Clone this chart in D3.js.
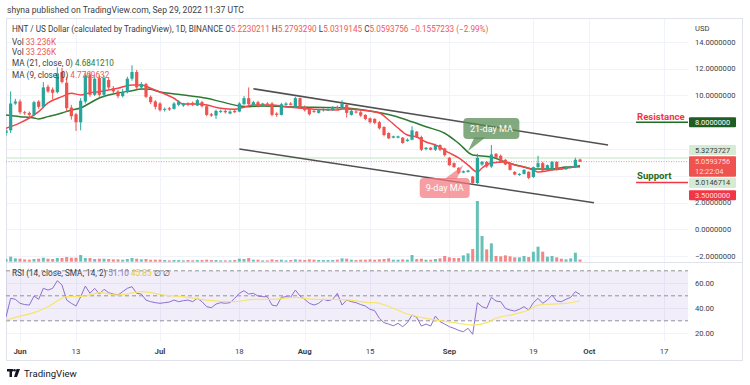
<!DOCTYPE html>
<html><head><meta charset="utf-8">
<script src="https://cdn.jsdelivr.net/npm/d3@7"></script>
<style>
body{margin:0;background:#fff;}
svg{display:block;font-family:Roboto,"Noto Sans",sans-serif;}
</style>
</head><body><svg id="c" width="750" height="385"></svg>
<script>
// ---------- DATA ----------
const firstDay = new Date(2022, 4, 29);   // May 29, 2022 (daily candles through Sep 29)
const lastDay = new Date(2022, 8, 30);
const dates = d3.timeDay.range(firstDay, lastDay);

const open = [7.2,7.4,9.4,9.55,8.75,8.7,8.55,9.55,9.15,10.65,10.45,10.25,11.75,10.95,9.1,8.6,8.0,9.55,11.55,10.05,11.3,10.05,11.15,10.55,10.3,9.95,10.25,11.25,11.75,10.6,10.85,9.9,9.55,9.4,8.95,9.05,9.0,9.3,9.25,9.4,9.45,9.25,9.5,9.2,8.6,8.5,8.8,8.85,8.65,8.85,8.8,9.35,9.8,9.3,9.5,9.3,9.4,9.4,8.65,8.55,9.3,9.4,9.15,9.8,9.15,9.05,8.85,8.7,8.9,8.95,8.9,9.15,9.05,9.3,8.55,8.8,8.75,8.55,8.3,8.25,8.0,7.65,7.2,6.85,6.85,6.85,6.6,6.7,7.3,6.9,6.0,6.1,5.95,6.3,6.05,5.35,4.95,4.6,4.25,4.3,3.95,3.47,4.85,5.05,4.7,5.65,5.5,5.2,4.95,4.3,4.1,4.15,4.3,3.92,4.65,4.95,4.5,4.45,5.05,4.6,4.5,4.6,4.65,5.2230211];
const high = [7.5,10.3,9.75,9.7,8.85,8.8,9.6,9.65,11.0,10.8,10.6,12.1,12.05,11.4,9.3,8.7,9.8,11.7,11.8,11.5,11.5,11.5,11.35,10.7,10.4,10.5,11.4,12.25,11.9,11.0,10.95,10.0,9.65,9.5,9.1,9.15,9.5,9.65,9.45,9.5,9.55,9.75,9.6,9.3,8.7,8.95,8.95,8.95,8.9,8.95,9.5,9.95,10.6,9.6,9.6,9.45,9.5,9.5,8.75,9.45,9.5,9.5,9.9,9.85,9.25,9.1,8.95,9.0,9.05,9.05,9.2,9.25,9.65,9.35,8.95,8.9,8.85,8.6,8.35,8.3,8.1,7.7,7.25,7.0,7.0,6.9,6.8,7.7,7.35,7.0,6.15,6.15,6.4,6.35,6.1,5.4,5.0,4.65,4.4,4.45,4.0,5.65,5.1,5.1,6.3,5.7,5.6,5.25,5.0,4.35,4.2,4.5,4.35,4.7,5.5,5.05,4.85,5.1,5.1,4.65,4.65,4.75,5.35,5.2793290];
const low = [7.0,7.2,9.3,8.6,8.55,8.4,8.45,9.0,9.05,10.2,9.7,10.15,10.9,8.8,8.2,7.35,7.4,9.4,9.9,9.95,9.9,9.85,10.45,10.15,9.8,9.85,10.15,11.1,10.45,10.4,9.8,9.35,8.95,8.8,8.8,8.85,8.95,9.2,9.15,9.2,9.2,9.2,9.1,8.45,8.4,8.25,8.7,8.65,8.6,8.7,8.75,9.3,9.25,9.25,9.1,9.2,9.3,8.45,8.4,8.5,9.2,9.25,9.1,9.05,8.8,8.5,8.7,8.65,8.8,8.85,8.85,8.95,9.0,8.35,8.5,8.65,8.4,8.15,7.9,7.85,7.45,6.95,6.75,6.8,6.8,6.4,6.55,6.65,6.85,5.85,5.9,5.9,5.85,5.85,5.45,4.75,4.6,4.15,4.2,4.25,3.4,3.4,4.75,4.6,4.6,5.3,5.0,4.8,4.4,4.05,4.0,4.1,3.75,3.85,4.6,4.35,4.45,4.4,4.4,4.45,4.45,4.55,4.6,5.0319145];
const close = [7.4,9.4,9.55,8.75,8.7,8.55,9.5,9.15,10.6,10.3,10.2,11.65,11.0,9.05,8.45,8.0,9.6,11.5,10.05,11.25,10.05,11.3,10.6,10.3,9.95,10.25,11.25,11.75,10.6,10.85,9.9,9.5,9.15,8.9,9.0,8.95,9.4,9.55,9.4,9.3,9.3,9.65,9.2,8.55,8.5,8.85,8.85,8.75,8.8,8.75,9.4,9.8,9.35,9.5,9.2,9.4,9.35,8.55,8.55,9.35,9.4,9.3,9.8,9.15,8.9,8.6,8.8,8.9,9.0,8.95,9.15,9.05,9.4,8.7,8.85,8.75,8.5,8.25,8.0,7.95,7.55,7.05,6.8,6.95,6.95,6.45,6.7,7.4,6.9,5.95,6.1,5.95,6.3,5.95,5.55,4.8,4.65,4.2,4.35,4.4,3.47,5.35,5.05,4.7,5.6,5.35,5.05,4.85,4.45,4.1,4.15,4.45,3.85,4.65,4.95,4.4,4.8,5.05,4.45,4.5,4.6,4.7,5.2,5.0593756];
// volume in thousands
const volume = [40,75,50,45,35,30,40,45,60,45,40,55,55,70,60,60,100,55,55,40,45,45,40,35,35,30,40,55,45,35,40,30,30,30,25,20,25,25,20,25,20,25,25,30,25,25,20,20,20,25,45,40,55,30,30,20,20,35,25,30,20,25,35,30,25,35,30,25,25,25,25,30,50,45,30,25,30,30,35,30,35,40,50,30,30,35,30,100,40,45,30,30,40,50,85,65,55,55,95,125,190,910,385,185,275,85,80,95,80,65,65,85,70,150,225,150,75,85,65,45,35,50,135,33.236];
const rsi = [33,48,47.2,44,43,42.6,49.8,47.2,56,54.6,56,62.1,58.6,46.6,44,41.8,49.3,57.8,52,56,51.4,55.2,52.5,51.4,50.6,53.3,56,57.3,52,51.4,46.6,45.3,44.5,44,44.5,45,46.6,45.3,46.1,46.6,45.3,48,45.3,41.3,40.5,43.4,44.5,44,44.5,48,52,54.1,51.4,52,49.8,49.3,49.3,42.6,41.8,48.8,49.3,48.8,54.6,49.8,47.2,44,42.6,44,47.2,46.1,47.2,52,42.6,46.6,45.3,44.5,43,41.8,39.2,38.1,32,28.5,27.4,26,28,25.3,28.5,34.6,32.8,25.8,27.4,25.8,33.8,29.3,27.4,25.3,24,22.3,21.3,24,19.2,44.5,41.3,40,48.8,45.8,45.3,40,38.6,37.8,39.2,41.3,38.6,44.5,48,44,46.6,50.6,45.8,45.3,47.2,48.8,53.3,51.1];
// [day index, value]
const ma21 = [[0,8.54],[3,8.42],[6,8.32],[7,8.25],[9,8.42],[12,8.69],[14,8.92],[16,9.07],[18,9.44],[20,9.81],[22,10.04],[24,10.19],[27,10.36],[29,10.49],[31,10.46],[33,10.26],[34,10.21],[38,10.04],[43,9.79],[46,9.54],[50,9.22],[52,9.16],[55,9.22],[60,9.16],[66,9.12],[72,9.09],[79,8.79],[83,8.49],[87,8.04],[90,7.67],[94,7.18],[97,6.43],[100,5.56],[104,5.41],[107,5.04],[111,4.66],[113,4.51],[117,4.51],[120,4.66],[123,4.684121]];
const ma9 = [[0,7.55],[3,7.95],[5,8.32],[7,8.79],[9,9.44],[12,9.91],[14,10.16],[16,10.04],[18,10.21],[20,10.28],[22,10.41],[24,10.54],[27,10.78],[29,10.78],[31,10.54],[33,10.26],[36,9.79],[38,9.37],[41,9.37],[43,9.29],[46,9.04],[49,8.97],[51,9.12],[53,9.29],[57,9.29],[60,9.16],[64,9.04],[66,8.97],[71,8.92],[72,8.99],[76,8.92],[80,8.69],[82,8.17],[84,7.57],[86,7.05],[88,6.9],[90,6.53],[92,6.31],[95,5.71],[97,5.34],[99,4.81],[101,4.29],[102,4.59],[104,4.96],[107,5.04],[109,4.81],[111,4.66],[113,4.44],[114,4.29],[117,4.44],[119,4.51],[123,4.7769632]];
const rsiSma = [[0,30.6],[3,33.8],[6,36.5],[9,41.3],[12,48],[13,49.3],[17,49.8],[20,52.5],[24,50.6],[29,53.3],[34,50.6],[39,48.8],[43,46.6],[49,45.3],[53,47.2],[57,47.2],[62,48.8],[66,47.2],[70,47.2],[74,46.6],[78,44.5],[79,44.5],[83,40],[86,35.4],[90,32],[93,30.1],[97,28],[100,26.6],[103,28.5],[105,32],[109,35.4],[112,38.6],[114,42.6],[117,43.4],[120,44],[123,45.85]];
// trend channel lines [day index, price]
const upperTrend = [[53,10.5],[129,6.3]];
const lowerTrend = [[50,6.0],[126,2.0]];
const resistance = 8.0, support = 3.5;
const lastLevels = {green: 5.3273727, close: 5.0593756, green2: 5.0146714};

const timeTicks = [new Date(2022,5,1),new Date(2022,5,13),new Date(2022,6,1),new Date(2022,6,18),new Date(2022,7,1),new Date(2022,7,15),new Date(2022,8,1),new Date(2022,8,19),new Date(2022,9,1),new Date(2022,9,17)];
const timeTickLabels = ["Jun","13","Jul","18","Aug","15","Sep","19","Oct","17"];
const priceTicks = [14,12,10,8,6,4,2,0,-2];
const rsiTicks = [60,40,20];
const rsiBands = [70,50,30];

// ---------- LAYOUT ----------
const svg = d3.select("#c");
const L = 6, R = 688, FR = 743, mTop = 18, mBot = 262, rBot = 341, fBot = 361;
const x = d3.scaleTime().domain([firstDay, new Date(2022,9,22)]).range([L, L + 146*4.667]);
const y = d3.scaleLinear().domain([-2.425, 15.78]).range([mBot, mTop]);
const yV = d3.scaleLinear().domain([0, 910]).range([261.7, 201]);
const yR = d3.scaleLinear().domain([13.84, 77.04]).range([rBot, mBot]);
const dx = i => x(d3.timeDay.offset(firstDay, i));
const UP = "#26a69a", DN = "#ef5350";

const defs = svg.append("defs");
defs.append("clipPath").attr("id","cm").append("rect").attr("x",L).attr("y",mTop).attr("width",R-L).attr("height",mBot-mTop);
defs.append("clipPath").attr("id","cr").append("rect").attr("x",L).attr("y",mBot).attr("width",R-L).attr("height",rBot-mBot);

// header
svg.append("text").attr("x",7).attr("y",13).attr("font-size",8.6).attr("fill","#3b3e46")
  .text("shyna published on TradingView.com, Sep 29, 2022 11:37 UTC");

// frame
svg.append("rect").attr("x",L+0.5).attr("y",mTop+0.5).attr("width",FR-L-1).attr("height",fBot-mTop-1)
  .attr("fill","none").attr("stroke","#e0e3eb");

// grid
const grid = svg.append("g").attr("stroke","#f0f3fa").attr("stroke-width",1);
timeTicks.forEach(d => grid.append("line").attr("x1",Math.round(x(d))+0.5).attr("x2",Math.round(x(d))+0.5).attr("y1",mTop+1).attr("y2",rBot));
priceTicks.forEach(v => grid.append("line").attr("x1",L+1).attr("x2",R).attr("y1",Math.round(y(v))+0.5).attr("y2",Math.round(y(v))+0.5));
rsiTicks.forEach(v => grid.append("line").attr("x1",L+1).attr("x2",R).attr("y1",Math.round(yR(v))+0.5).attr("y2",Math.round(yR(v))+0.5));
// pane separator
svg.append("line").attr("x1",L).attr("x2",FR).attr("y1",mBot+0.5).attr("y2",mBot+0.5).attr("stroke","#e0e3eb");

const gm = svg.append("g").attr("clip-path","url(#cm)");

// volume
gm.append("g").selectAll("rect").data(volume).join("rect")
  .attr("x",(d,i)=>dx(i)-1.5).attr("width",3)
  .attr("y",d=>yV(d)).attr("height",d=>yV(0)-yV(d))
  .attr("fill",(d,i)=>close[i]>=open[i]?UP:DN).attr("opacity",0.7);

// horizontal level lines
gm.append("line").attr("x1",L).attr("x2",R).attr("y1",y(lastLevels.green)).attr("y2",y(lastLevels.green))
  .attr("stroke","#d7ecd5").attr("stroke-width",1.5);
gm.append("line").attr("x1",L).attr("x2",R).attr("y1",y(lastLevels.close)).attr("y2",y(lastLevels.close))
  .attr("stroke","#cfa294").attr("stroke-width",1).attr("stroke-dasharray","1,1.5");

// trend lines
[upperTrend, lowerTrend].forEach(t => gm.append("line")
  .attr("x1",dx(t[0][0])).attr("y1",y(t[0][1])).attr("x2",dx(t[1][0])).attr("y2",y(t[1][1]))
  .attr("stroke","#505050").attr("stroke-width",1.5));

// MAs
const maLine = d3.line().x(d=>dx(d[0])).y(d=>y(d[1])).curve(d3.curveMonotoneX);
gm.append("path").attr("d",maLine(ma21)).attr("fill","none").attr("stroke","#2f7a32").attr("stroke-width",1.5);
gm.append("path").attr("d",maLine(ma9)).attr("fill","none").attr("stroke","#f2444c").attr("stroke-width",1.5);

// candles
const cg = gm.append("g");
dates.forEach((d,i)=>{
  const c = close[i]>=open[i]?UP:DN, cx = dx(i);
  cg.append("line").attr("x1",cx).attr("x2",cx).attr("y1",y(high[i])).attr("y2",y(low[i])).attr("stroke",c).attr("stroke-width",1);
  const t = y(Math.max(open[i],close[i])), b = y(Math.min(open[i],close[i]));
  cg.append("rect").attr("x",cx-1.6).attr("width",3.2).attr("y",t).attr("height",Math.max(1,b-t)).attr("fill",c);
});

// callouts
function callout(cxI, cyP, w, h, tipI, tipP, base, fill, label){
  const cx = dx(cxI), cy = y(cyP), tx = dx(tipI), ty = y(tipP);
  const g = svg.append("g");
  g.append("path").attr("d",`M${base[0]},${base[1]}L${tx},${ty}L${base[2]},${base[3]}Z`).attr("fill",fill);
  g.append("rect").attr("x",cx-w/2).attr("y",cy-h/2).attr("width",w).attr("height",h).attr("rx",4).attr("fill",fill);
  g.append("text").attr("x",cx).attr("y",cy+3.2).attr("text-anchor","middle").attr("font-size",9).attr("fill","#fff").text(label);
}
{
  const c21x = dx(104.4), c21y = y(7.54);
  callout(104.4, 7.54, 56, 21, 99.9, 5.86, [c21x-17, c21y+9, c21x-6, c21y+9], "rgba(88,140,85,0.75)", "21-day MA");
  const c9x = dx(94.3), c9y = y(3.1);
  callout(94.3, 3.1, 50, 20, 98.6, 4.81, [c9x+0, c9y-9, c9x+12, c9y-9], "rgba(242,120,126,0.72)", "9-day MA");
}

// Resistance / Support
const annoX1 = dx(135.2);
svg.append("line").attr("x1",annoX1).attr("x2",R).attr("y1",y(resistance)).attr("y2",y(resistance)).attr("stroke","#1e6b22").attr("stroke-width",1.5);
svg.append("text").attr("x",annoX1+1).attr("y",y(resistance)-2.5).attr("font-size",9.6).attr("font-weight","bold").attr("fill","#f23645").text("Resistance");
svg.append("line").attr("x1",annoX1).attr("x2",R).attr("y1",y(support)).attr("y2",y(support)).attr("stroke","#f23645").attr("stroke-width",1.5);
svg.append("text").attr("x",annoX1+1).attr("y",y(support)-4).attr("font-size",9.6).attr("font-weight","bold").attr("fill","#1e6b22").text("Support");

// RSI pane
const gr = svg.append("g").attr("clip-path","url(#cr)");
gr.append("rect").attr("x",L).attr("width",R-L).attr("y",yR(70)).attr("height",yR(30)-yR(70)).attr("fill","rgba(126,87,194,0.1)");
rsiBands.forEach(v => gr.append("line").attr("x1",L).attr("x2",R).attr("y1",yR(v)).attr("y2",yR(v))
  .attr("stroke","#8f929b").attr("stroke-dasharray","4,3").attr("stroke-width",1));
gr.append("path").attr("d",d3.line().x((d,i)=>dx(i)).y(d=>yR(d))(rsi)).attr("fill","none").attr("stroke","#8d6fd0").attr("stroke-width",1);
gr.append("path").attr("d",d3.line().x(d=>dx(d[0])).y(d=>yR(d[1])).curve(d3.curveMonotoneX)(rsiSma)).attr("fill","none").attr("stroke","#f6e46b").attr("stroke-width",1.2);

// price labels (tags) - computed first so hidden tick labels can be skipped
const tags = [
  {yc: y(resistance), h: 10, fill: "#1e5e22", color: "#fff", lines: ["8.0000000"]},
  {yc: y(lastLevels.green)-8, h: 10, fill: "#d6ebd4", color: "#3b3e46", lines: ["5.3273727"]},
  {yc: y(lastLevels.close)+4.8, h: 20.5, fill: "#ef5350", color: "#fbdede", lines: ["5.0593756","12:22:04"]},
  {yc: y(lastLevels.green2)+20.6, h: 10, fill: "#d6ebd4", color: "#3b3e46", lines: ["5.0146714"]},
  {yc: y(support)+12.6, h: 10, fill: "#f23645", color: "#fde0e0", lines: ["3.5000000"]}
];
const hidden = v => tags.some(t => Math.abs(y(v) - t.yc) < t.h/2 + 2);

// price axis
const ax = svg.append("g").attr("font-size",7.6).attr("fill","#3b3e46");
ax.append("text").attr("x",695).attr("y",31).text("USD");
priceTicks.filter(v => !hidden(v)).forEach(v => ax.append("text").attr("x",695).attr("y",y(v)+2.7).text(d3.format(".7f")(v).replace("-","\u2212")));
rsiTicks.forEach(v => ax.append("text").attr("x",695).attr("y",yR(v)+2.7).text(d3.format(".2f")(v)));

tags.forEach(t => {
  svg.append("rect").attr("x",689).attr("y",t.yc-t.h/2).attr("width",47).attr("height",t.h).attr("rx",1).attr("fill",t.fill);
  t.lines.forEach((s,k)=>svg.append("text").attr("x",695).attr("y",t.yc-(t.lines.length-1)*4.6+k*9.2+2.6)
    .attr("font-size",7.4).attr("fill",t.color).text(s));
});

// time axis
const tx = svg.append("g").attr("font-size",7.8).attr("fill","#3b3e46").attr("text-anchor","middle");
timeTicks.forEach((d,k)=>tx.append("text").attr("x",x(d)).attr("y",354)
  .attr("font-weight", isNaN(+timeTickLabels[k]) ? "bold" : "normal").text(timeTickLabels[k]));

// legend
const lg = svg.append("g").attr("font-size",8.2);
function legendLine(xp, yp, parts){
  const t = lg.append("text").attr("x",xp).attr("y",yp);
  parts.forEach(p => t.append("tspan").attr("fill",p[1]).text(p[0]));
}
const RED="#f0575c", GRN="#2f7a32", TXT="#3b3e46";
legendLine(12, 32, [["HNT / US Dollar (calculated by TradingView), 1D, BINANCE  ",TXT],["O",TXT],["5.2230211  ",RED],["H",TXT],["5.2793290  ",RED],["L",TXT],["5.0319145  ",RED],["C",TXT],["5.0593756  \u22120.1557233 (\u22122.99%)",RED]]);
legendLine(12, 45, [["Vol  ",TXT],["33.236K",RED]]);
legendLine(12, 55, [["Vol  ",TXT],["33.236K",RED]]);
legendLine(12, 66, [["MA (21, close, 0)  ",TXT],["4.6841210",GRN]]);
legendLine(12, 78, [["MA (9, close, 0)  ",TXT],["4.7769632",RED]]);
legendLine(12, 276, [["RSI (14, close, SMA, 14, 2)  ",TXT],["51.10  ","#8d6fd0"],["45.85  ","#e0c93a"],["\u2205  \u2205",TXT]]);

// TradingView logo
const lgo = svg.append("g").attr("fill","#131722");
lgo.append("rect").attr("x",7).attr("y",369).attr("width",6).attr("height",2.5);
lgo.append("rect").attr("x",9.5).attr("y",369).attr("width",2.5).attr("height",8);
lgo.append("circle").attr("cx",14.5).attr("cy",370.3).attr("r",1.3);
lgo.append("path").attr("d","M16.5,369 L20,369 L17,377 L14,377 Z");
svg.append("text").attr("x",24).attr("y",376.5).attr("font-size",9.6).attr("fill","#131722").text("TradingView");
</script>
</body></html>
